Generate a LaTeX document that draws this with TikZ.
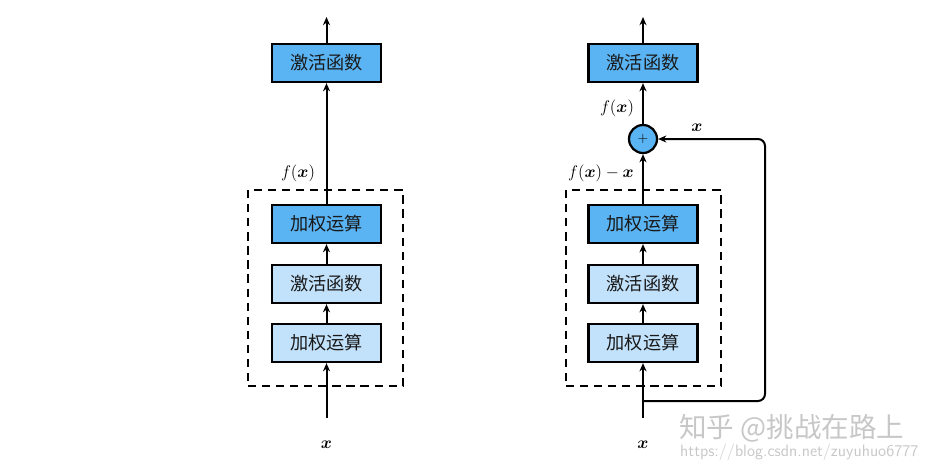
\documentclass[tikz,border=0pt]{standalone}
\usepackage{fontspec}
\usepackage{amsmath,bm}
\newfontfamily\cjk{Noto Sans CJK SC}
\usetikzlibrary{arrows.meta}
\definecolor{darkfill}{HTML}{5AB3F2}
\definecolor{lightfill}{HTML}{C2E1FA}
\tikzset{
  x=0.03cm, y=-0.03cm,
  opbox/.style={draw=black, line width=1.9pt, minimum width=109*0.03cm, minimum height=38*0.03cm, inner sep=0pt, font=\cjk\fontsize{15.5}{18}\selectfont, text=black!90},
  darkbox/.style={opbox, fill=darkfill},
  lightbox/.style={opbox, fill=lightfill},
  conn/.style={line width=1.7pt, -{Stealth[length=7pt,width=6pt]}},
  dashbox/.style={draw=black, line width=1.6pt, dash pattern=on 7pt off 5pt},
  lbl/.style={font=\fontsize{15}{17}\selectfont, inner sep=0pt},
  plusc/.style={circle, draw=black, line width=1.9pt, fill=darkfill, minimum size=28*0.03cm, inner sep=0pt, font=\fontsize{13}{14}\selectfont},
  wm/.style={text=black!22, inner sep=0pt}
}
\begin{document}
\begin{tikzpicture}
\useasboundingbox (0,0) rectangle (929,467);
% ---------- left ----------
\node[dashbox, minimum width=155*0.03cm, minimum height=196*0.03cm, inner sep=0pt] (dL) at (325.5,288) {};
\node[darkbox] (topL) at (326.5,63) {激活函数};
\node[darkbox] (aL1) at (326.5,224) {加权运算};
\node[lightbox] (aL2) at (326.5,284) {激活函数};
\node[lightbox] (aL3) at (326.5,343) {加权运算};
\coordinate (inL) at (326.5,418);
\coordinate (outL) at (326.5,17);
\node[lbl] (fxL) at (298,173) {$f(\bm{x})$};
\node[lbl] (xL) at (326.5,445) {$\bm{x}$};
\draw[conn] (inL) -- (aL3);
\draw[conn] (aL3) -- (aL2);
\draw[conn] (aL2) -- (aL1);
\draw[conn] (aL1) -- (topL);
\draw[conn] (topL) -- (outL);
% ---------- right ----------
\node[dashbox, minimum width=155*0.03cm, minimum height=196*0.03cm, inner sep=0pt] (dR) at (643.5,288) {};
\node[darkbox] (topR) at (643,63) {激活函数};
\node[darkbox] (aR1) at (643,224) {加权运算};
\node[lightbox] (aR2) at (643,284) {激活函数};
\node[lightbox] (aR3) at (643,343) {加权运算};
\node[plusc] (plus) at (643,139) {$+$};
\coordinate (inR) at (643,418);
\coordinate (outR) at (643,17);
\coordinate (split) at (643,401);
\coordinate (cB) at (765,401);
\coordinate (cT) at (765,139);
\node[lbl] (fxR) at (617,108) {$f(\bm{x})$};
\node[lbl] (fmx) at (601,173) {$f(\bm{x})-\bm{x}$};
\node[lbl] (xskip) at (697,128) {$\bm{x}$};
\node[lbl] (xR) at (643,445) {$\bm{x}$};
\draw[conn] (inR) -- (aR3);
\draw[conn] (aR3) -- (aR2);
\draw[conn] (aR2) -- (aR1);
\draw[conn] (aR1) -- (plus);
\draw[conn] (plus) -- (topR);
\draw[conn] (topR) -- (outR);
\draw[conn, rounded corners=6pt] (split) -- (cB) -- (cT) -- (plus);
% ---------- watermark ----------
\node[wm, font=\cjk\fontsize{23.5}{26}\selectfont, anchor=west] (wm1) at (679,428) {知乎 @挑战在路上};
\node[wm, font=\sffamily\fontsize{14}{16}\selectfont, anchor=west] (wm2) at (680,452) {https://blog.csdn.net/zuyuhuo6777};
\end{tikzpicture}
\end{document}
